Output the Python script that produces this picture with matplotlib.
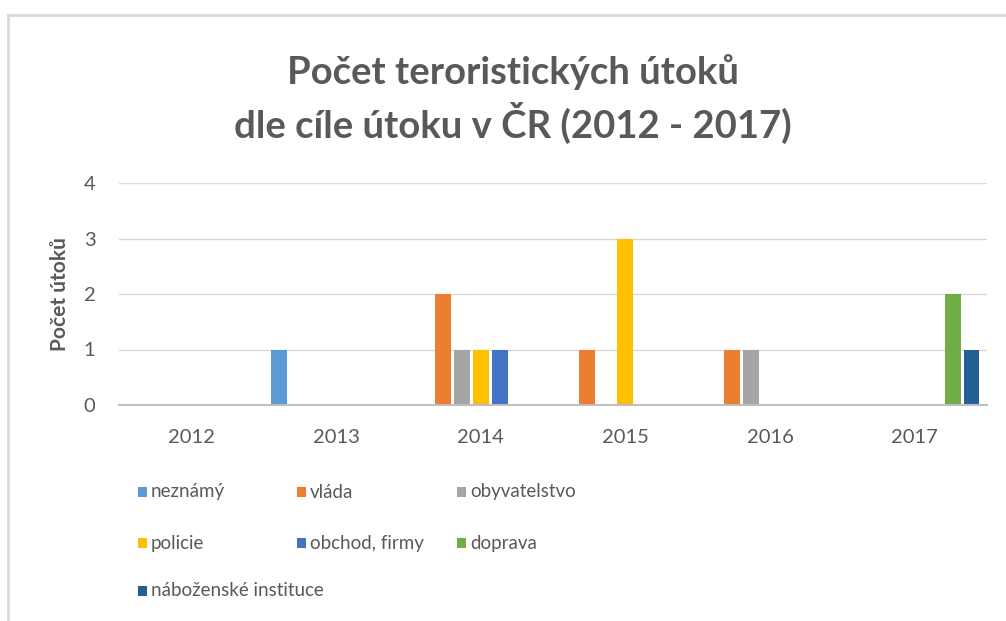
# -*- coding: utf-8 -*-
# Počet teroristických útoků dle cíle útoku v ČR (2012 - 2017)

import numpy as np
import matplotlib
matplotlib.use('Agg')
import matplotlib.pyplot as plt
from matplotlib.patches import Rectangle
from matplotlib.lines import Line2D

plt.rcParams['font.family'] = ['Lato', 'DejaVu Sans']

roky = ['2012', '2013', '2014', '2015', '2016', '2017']

neznamy      = [0, 1, 0, 0, 0, 0]
vlada        = [0, 0, 2, 1, 1, 0]
obyvatelstvo = [0, 0, 1, 0, 1, 0]
policie      = [0, 0, 1, 3, 0, 0]
obchod       = [0, 0, 1, 0, 0, 0]
doprava      = [0, 0, 0, 0, 0, 2]
nabozenske   = [0, 0, 0, 0, 0, 1]

serie = [
    ('neznámý', neznamy, '#5B9BD5'),
    ('vláda', vlada, '#ED7D31'),
    ('obyvatelstvo', obyvatelstvo, '#A5A5A5'),
    ('policie', policie, '#FFC000'),
    ('obchod, firmy', obchod, '#4472C4'),
    ('doprava', doprava, '#70AD47'),
    ('náboženské instituce', nabozenske, '#255E91'),
]

txt = '#595959'

fig = plt.figure(figsize=(10.06, 6.21), dpi=100)
fig.patch.set_facecolor('white')

# okraj grafu (jen levá a horní hrana jsou vidět)
fig.add_artist(Line2D([8/1006, 8/1006], [0, 1 - 15/621], color='#D9D9D9', lw=2))
fig.add_artist(Line2D([8/1006, 1], [1 - 15/621, 1 - 15/621], color='#D9D9D9', lw=2))

ax = fig.add_axes([119/1006, 1 - 405/621, 868/1006, 222/621])

x = np.arange(len(roky))
step = 0.131
w = 0.11
for i, (nazev, hodnoty, barva) in enumerate(serie):
    ax.bar(x + (i - 3) * step, hodnoty, width=w, color=barva, zorder=3)

ax.set_xlim(-0.5, len(roky) - 0.5)
ax.set_ylim(0, 4)
ax.set_yticks([0, 1, 2, 3, 4])
ax.set_xticks(x)
ax.set_xticklabels(roky)
ax.tick_params(axis='both', length=0, labelsize=14.5, colors=txt)
ax.tick_params(axis='y', pad=17)
ax.tick_params(axis='x', pad=17)
ax.grid(axis='y', color='#D9D9D9', lw=1, zorder=0)
for s in ['top', 'right', 'left']:
    ax.spines[s].set_visible(False)
ax.spines['bottom'].set_color('#BFBFBF')
ax.spines['bottom'].set_linewidth(1.5)
ax.spines['bottom'].set_zorder(4)
ax.set_ylabel('Počet útoků', fontsize=15, fontweight='bold', color=txt, labelpad=10)

fig.text(513/1006, 1 - 72/621, 'Počet teroristických útoků', ha='center', va='center',
         fontsize=27.5, fontweight='bold', color=txt)
fig.text(513/1006, 1 - 123/621, 'dle cíle útoku v ČR (2012 - 2017)', ha='center', va='center',
         fontsize=27.5, fontweight='bold', color=txt)

# legenda ve třech sloupcích
sloupce = [138, 297, 457]
radky = [492, 543, 591]
for i, (nazev, hodnoty, barva) in enumerate(serie):
    px = sloupce[i % 3]
    py = radky[i // 3]
    fig.add_artist(Rectangle((px / 1006, 1 - (py + 5) / 621), 9 / 1006, 10 / 621,
                             facecolor=barva, edgecolor='none'))
    fig.text((px + 13) / 1006, 1 - py / 621, nazev, ha='left', va='center',
             fontsize=13.5, color=txt)

fig.savefig('out.png', dpi=100, facecolor='white')
